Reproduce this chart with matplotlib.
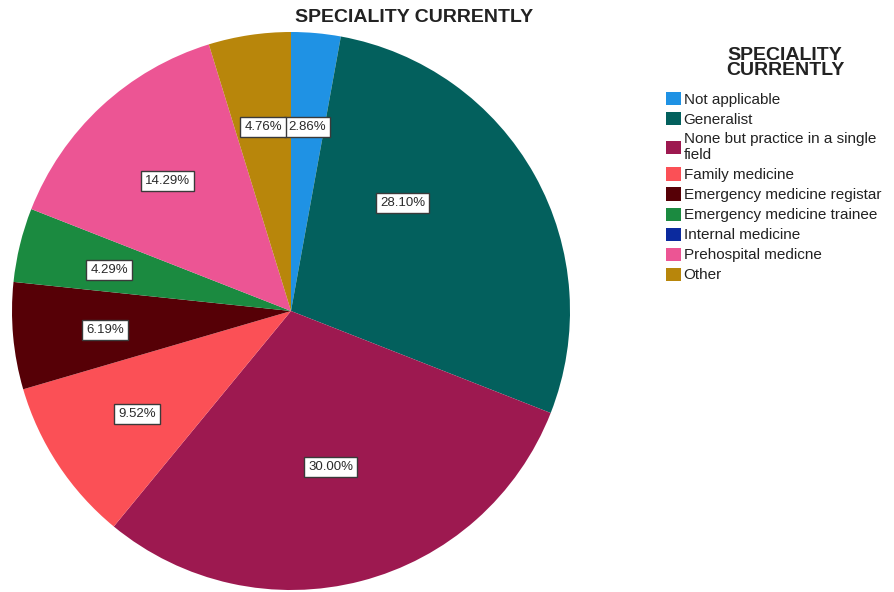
import matplotlib.pyplot as plt

plt.rcParams['font.family'] = ['Liberation Sans', 'DejaVu Sans']

# Speciality breakdown (percent of respondents)
categories = ['Not applicable', 'Generalist', 'None but practice in a single\nfield',
              'Family medicine', 'Emergency medicine registar',
              'Emergency medicine trainee', 'Internal medicine',
              'Prehospital medicne', 'Other']
percents = [2.86, 28.10, 30.00, 9.52, 6.19, 4.29, 0.0, 14.29, 4.76]
colors = ['#1f92e4', '#03605d', '#9d1950', '#fb5056', '#560006',
          '#1b8a40', '#0b2a9e', '#ec5594', '#b8860b']

# label box centres, in units of the pie radius
label_pos = [(0.057, 0.659), (0.401, 0.387), (0.143, -0.559), (-0.552, -0.369),
             (-0.667, -0.068), (-0.652, 0.147), None, (-0.441, 0.466), (-0.100, 0.659)]

W, H = 894, 592
fig = plt.figure(figsize=(W / 100, H / 100), dpi=100)

cx, cy, r = 291, 311, 279
ax = fig.add_axes([(cx - r) / W, (H - cy - r) / H, 2 * r / W, 2 * r / H])
ax.pie(percents, colors=colors, startangle=90, counterclock=False, radius=1,
       wedgeprops=dict(linewidth=0))
ax.set_xlim(-1, 1)
ax.set_ylim(-1, 1)
ax.set_aspect('equal')
ax.axis('off')

for p, pos in zip(percents, label_pos):
    if pos is None or p == 0:
        continue
    ax.text(pos[0], pos[1], f'{p:.2f}%', ha='center', va='center', fontsize=9.5,
            color='#2a2a2a',
            bbox=dict(boxstyle='square,pad=0.3', facecolor='white',
                      edgecolor='#3a3a3a', linewidth=1))

fig.text(414 / W, 1 - 17 / H, 'SPECIALITY CURRENTLY', ha='center', va='center',
         fontsize=14, fontweight='bold', color='#222222')

# legend title drawn separately so the gap below it can be set freely
fig.text(785 / W, 1 - 63 / H, 'SPECIALITY\nCURRENTLY', ha='center', va='center',
         fontsize=14, fontweight='bold', color='#222222', linespacing=0.85)

handles = [plt.Rectangle((0, 0), 1, 1, facecolor=c, edgecolor='none') for c in colors]
leg = fig.legend(handles, categories, loc='upper left',
                 bbox_to_anchor=(666 / W, 1 - 92 / H), frameon=False,
                 fontsize=11,
                 handlelength=0.95, handleheight=0.95, handletextpad=0.2,
                 labelspacing=0.34, borderpad=0, borderaxespad=0)
for t in leg.get_texts():
    t.set_color('#222222')
    t.set_linespacing(1.2)

fig.savefig('out.png', dpi=100)
